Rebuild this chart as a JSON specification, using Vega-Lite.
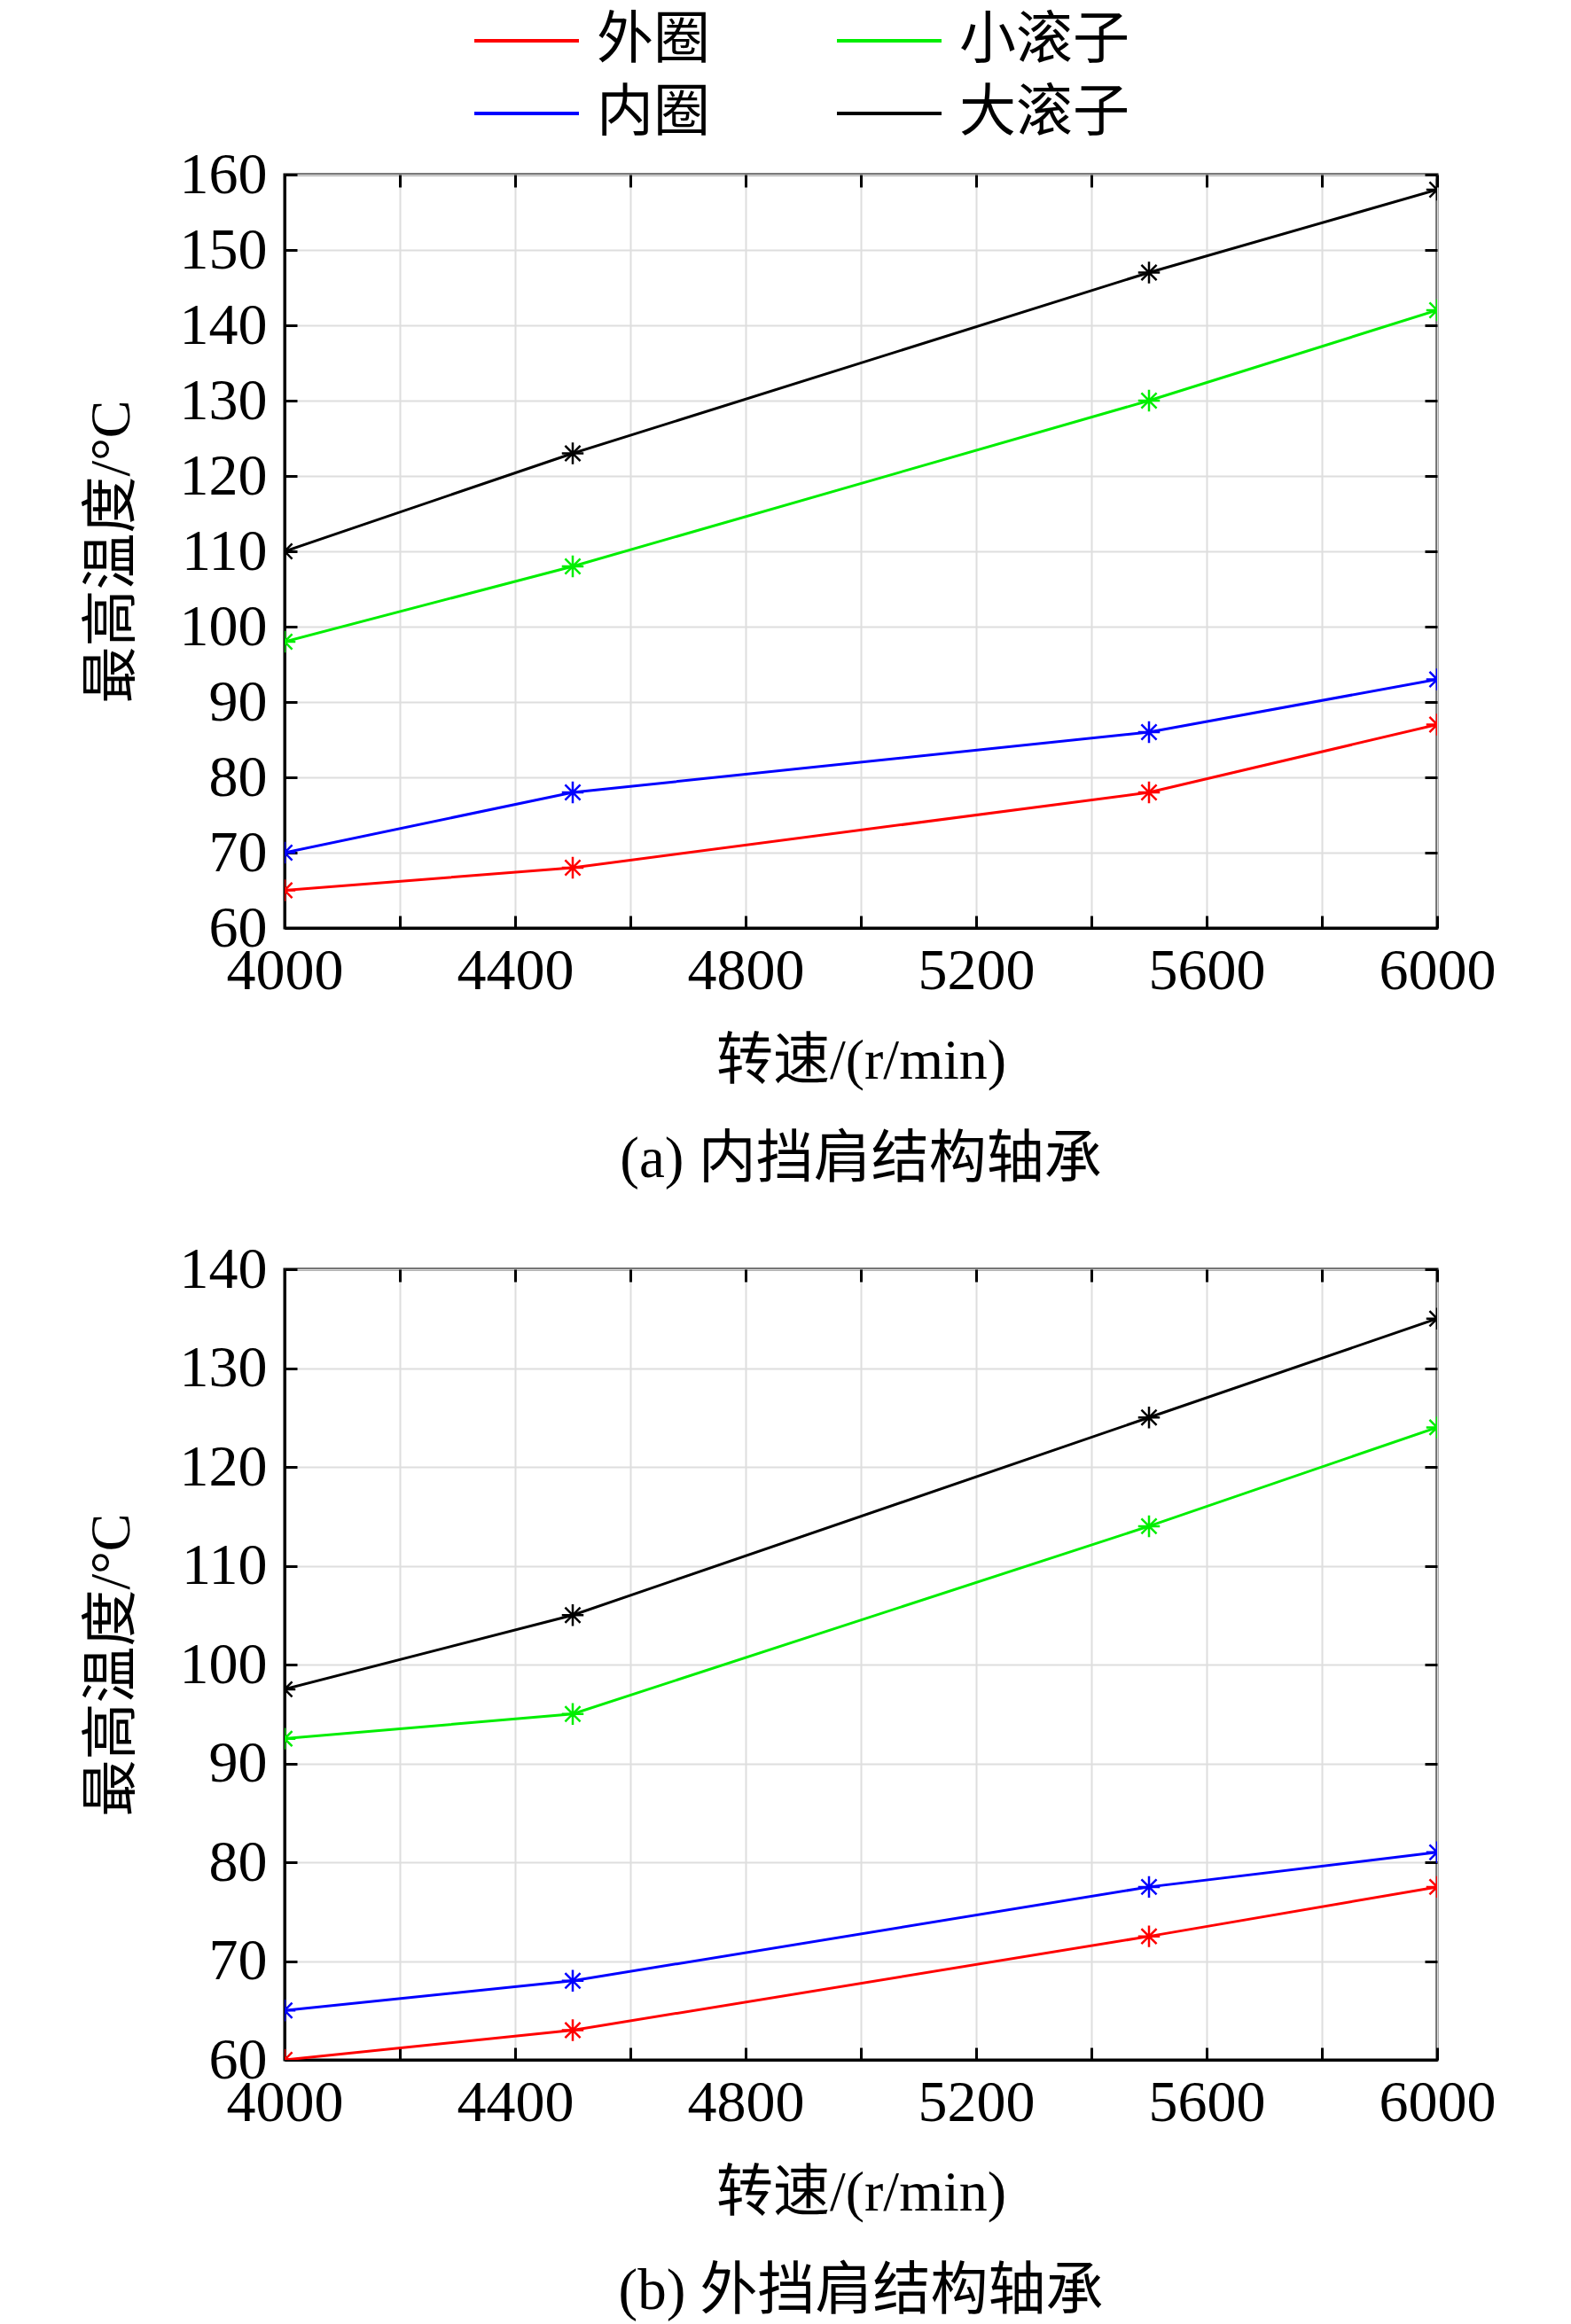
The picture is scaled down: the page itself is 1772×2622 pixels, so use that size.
{
  "$schema": "https://vega.github.io/schema/vega-lite/v6.json",
  "background": "white",
  "padding": {"left": 92, "top": 12, "right": 0, "bottom": 0},
  "spacing": 54,
  "config": {
    "view": {"stroke": "black", "strokeWidth": 3},
    "font": "Liberation Serif, Noto Sans CJK SC",
    "axis": {
      "domainColor": "black", "domainWidth": 3,
      "tickColor": "black", "tickWidth": 3, "tickSize": -14,
      "gridColor": "#dedede", "gridWidth": 2,
      "labelFont": "Liberation Serif", "labelFontSize": 66, "labelColor": "black",
      "titleFont": "Liberation Serif, Noto Sans CJK SC", "titleFontSize": 64, "titleFontWeight": "normal", "titleColor": "black"
    },
    "title": {"font": "Liberation Serif, Noto Sans CJK SC", "fontSize": 65, "fontWeight": "normal", "color": "black"}
  },
  "datasets": {
    "a": [
      {"speed": 4000, "part": "外圈", "temp": 65},
      {"speed": 4500, "part": "外圈", "temp": 68},
      {"speed": 5500, "part": "外圈", "temp": 78},
      {"speed": 6000, "part": "外圈", "temp": 87},
      {"speed": 4000, "part": "内圈", "temp": 70},
      {"speed": 4500, "part": "内圈", "temp": 78},
      {"speed": 5500, "part": "内圈", "temp": 86},
      {"speed": 6000, "part": "内圈", "temp": 93},
      {"speed": 4000, "part": "小滚子", "temp": 98},
      {"speed": 4500, "part": "小滚子", "temp": 108},
      {"speed": 5500, "part": "小滚子", "temp": 130},
      {"speed": 6000, "part": "小滚子", "temp": 142},
      {"speed": 4000, "part": "大滚子", "temp": 110},
      {"speed": 4500, "part": "大滚子", "temp": 123},
      {"speed": 5500, "part": "大滚子", "temp": 147},
      {"speed": 6000, "part": "大滚子", "temp": 158}
    ],
    "b": [
      {"speed": 4000, "part": "外圈", "temp": 60},
      {"speed": 4500, "part": "外圈", "temp": 63},
      {"speed": 5500, "part": "外圈", "temp": 72.5},
      {"speed": 6000, "part": "外圈", "temp": 77.5},
      {"speed": 4000, "part": "内圈", "temp": 65},
      {"speed": 4500, "part": "内圈", "temp": 68},
      {"speed": 5500, "part": "内圈", "temp": 77.5},
      {"speed": 6000, "part": "内圈", "temp": 81},
      {"speed": 4000, "part": "小滚子", "temp": 92.5},
      {"speed": 4500, "part": "小滚子", "temp": 95},
      {"speed": 5500, "part": "小滚子", "temp": 114},
      {"speed": 6000, "part": "小滚子", "temp": 124},
      {"speed": 4000, "part": "大滚子", "temp": 97.5},
      {"speed": 4500, "part": "大滚子", "temp": 105},
      {"speed": 5500, "part": "大滚子", "temp": 125},
      {"speed": 6000, "part": "大滚子", "temp": 135}
    ]
  },
  "resolve": {"scale": {"color": "independent"}, "legend": {"color": "independent"}},
  "vconcat": [
    {
      "width": 1300, "height": 850,
      "title": {"text": "(a) 内挡肩结构轴承", "orient": "bottom", "offset": 48},
      "data": {"name": "a"},
      "resolve": {"axis": {"x": "independent", "y": "independent"}},
      "layer": [
        {
          "mark": {"type": "line", "strokeWidth": 3, "clip": true},
          "encoding": {
            "x": {"field": "speed", "type": "quantitative", "scale": {"domain": [4000, 6000], "nice": false},
                  "axis": {"title": "转速/(r/min)", "values": [4000,4200,4400,4600,4800,5000,5200,5400,5600,5800,6000], "labelExpr": "datum.value % 400 == 0 ? datum.label : ''", "format": "d", "labelPadding": 30, "titlePadding": 37, "labelFlush": false}},
            "y": {"field": "temp", "type": "quantitative", "scale": {"domain": [60, 160], "nice": false},
                  "axis": {"title": "最高温度/°C", "values": [60,70,80,90,100,110,120,130,140,150,160], "labelPadding": 34, "titlePadding": 44, "labelFlush": false}},
            "color": {"field": "part", "type": "nominal",
                      "scale": {"domain": ["外圈", "内圈", "小滚子", "大滚子"], "range": ["#ff0000", "#0000ff", "#00ee00", "#000000"]},
                      "legend": {"title": null, "orient": "none", "legendX": 241, "legendY": -183, "columns": 2, "symbolType": "M-2,0L2,0", "symbolSize": 3481, "symbolStrokeWidth": 4, "labelFontSize": 64, "labelFont": "Noto Sans CJK SC", "labelColor": "black", "labelLimit": 0, "labelOffset": 47, "columnPadding": 135, "rowPadding": 18}}
          }
        },
        {
          "mark": {"type": "point", "shape": "M-1,0L1,0M0,-1L0,1M-0.7,-0.7L0.7,0.7M-0.7,0.7L0.7,-0.7", "filled": false, "strokeWidth": 2.5, "size": 600, "clip": true, "opacity": 1},
          "encoding": {
            "x": {"field": "speed", "type": "quantitative", "axis": null},
            "y": {"field": "temp", "type": "quantitative", "axis": null},
            "color": {"field": "part", "type": "nominal", "legend": null}
          }
        },
        {
          "mark": {"type": "point", "opacity": 0},
          "encoding": {
            "x": {"field": "speed", "type": "quantitative", "axis": {"orient": "top", "title": null, "labels": false, "grid": false, "domain": false, "values": [4000,4200,4400,4600,4800,5000,5200,5400,5600,5800,6000]}},
            "y": {"field": "temp", "type": "quantitative", "axis": {"orient": "right", "title": null, "labels": false, "grid": false, "domain": false, "values": [60,70,80,90,100,110,120,130,140,150,160]}}
          }
        }
      ]
    },
    {
      "width": 1300, "height": 892,
      "title": {"text": "(b) 外挡肩结构轴承", "orient": "bottom", "offset": 48},
      "data": {"name": "b"},
      "resolve": {"axis": {"x": "independent", "y": "independent"}},
      "layer": [
        {
          "mark": {"type": "line", "strokeWidth": 3, "clip": true},
          "encoding": {
            "x": {"field": "speed", "type": "quantitative", "scale": {"domain": [4000, 6000], "nice": false},
                  "axis": {"title": "转速/(r/min)", "values": [4000,4200,4400,4600,4800,5000,5200,5400,5600,5800,6000], "labelExpr": "datum.value % 400 == 0 ? datum.label : ''", "format": "d", "labelPadding": 30, "titlePadding": 37, "labelFlush": false}},
            "y": {"field": "temp", "type": "quantitative", "scale": {"domain": [60, 140], "nice": false},
                  "axis": {"title": "最高温度/°C", "values": [60,70,80,90,100,110,120,130,140], "labelPadding": 34, "titlePadding": 44, "labelFlush": false}},
            "color": {"field": "part", "type": "nominal",
                      "scale": {"domain": ["外圈", "内圈", "小滚子", "大滚子"], "range": ["#ff0000", "#0000ff", "#00ee00", "#000000"]},
                      "legend": null}
          }
        },
        {
          "mark": {"type": "point", "shape": "M-1,0L1,0M0,-1L0,1M-0.7,-0.7L0.7,0.7M-0.7,0.7L0.7,-0.7", "filled": false, "strokeWidth": 2.5, "size": 600, "clip": true, "opacity": 1},
          "encoding": {
            "x": {"field": "speed", "type": "quantitative", "axis": null},
            "y": {"field": "temp", "type": "quantitative", "axis": null},
            "color": {"field": "part", "type": "nominal", "legend": null}
          }
        },
        {
          "mark": {"type": "point", "opacity": 0},
          "encoding": {
            "x": {"field": "speed", "type": "quantitative", "axis": {"orient": "top", "title": null, "labels": false, "grid": false, "domain": false, "values": [4000,4200,4400,4600,4800,5000,5200,5400,5600,5800,6000]}},
            "y": {"field": "temp", "type": "quantitative", "axis": {"orient": "right", "title": null, "labels": false, "grid": false, "domain": false, "values": [60,70,80,90,100,110,120,130,140]}}
          }
        }
      ]
    }
  ]
}
